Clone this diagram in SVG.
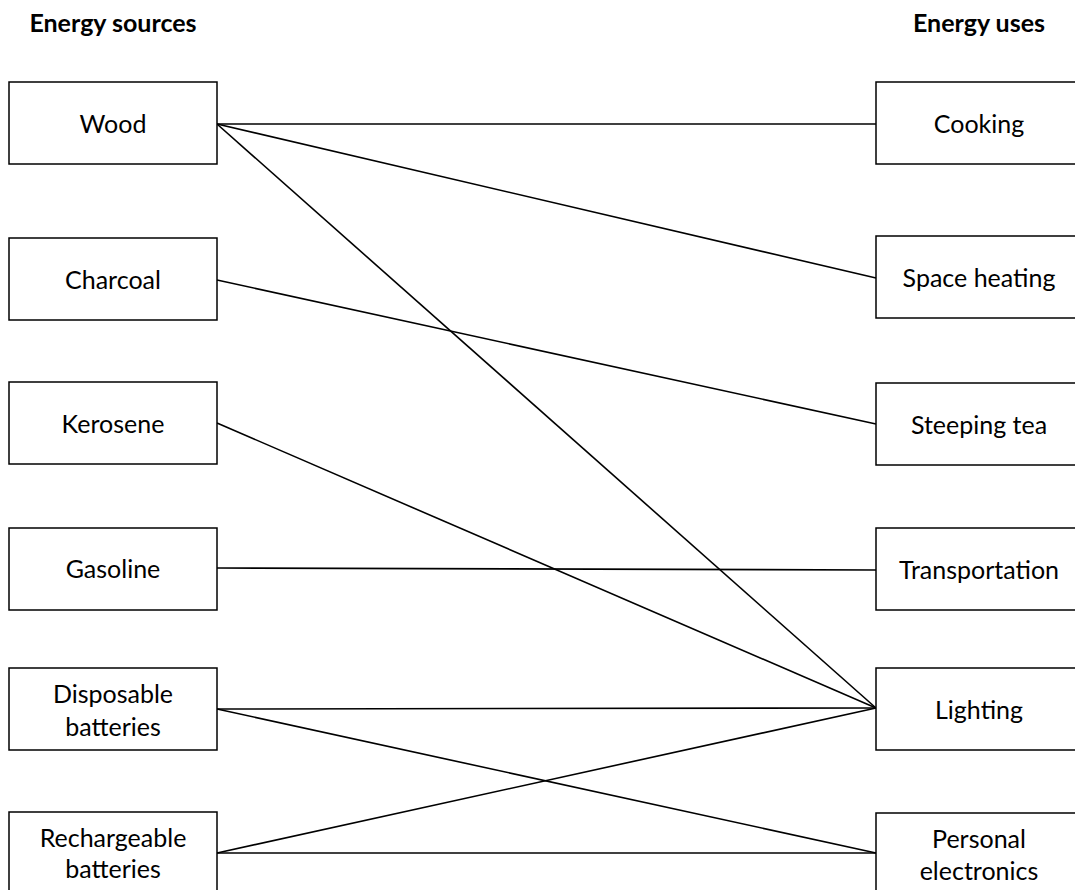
<svg xmlns="http://www.w3.org/2000/svg" width="1075" height="890" viewBox="0 0 1075 890">
<style>
.box{fill:#fff;stroke:#000;stroke-width:1.5}
.t{font-family:Lato,"Liberation Sans",sans-serif;font-size:25px;fill:#000;text-anchor:middle}
.h{font-family:Lato,"Liberation Sans",sans-serif;font-size:25px;font-weight:bold;fill:#000;text-anchor:middle}
.c{stroke:#000;stroke-width:1.6;fill:none}
</style>
<rect width="1075" height="890" fill="#fff"/>
<text class="h" x="113" y="32">Energy sources</text>
<text class="h" x="979" y="32">Energy uses</text>
<g id="connectors">
<line class="c" x1="217" y1="124" x2="876" y2="124"/>
<line class="c" x1="217" y1="124" x2="876" y2="278"/>
<line class="c" x1="217" y1="124" x2="876" y2="708"/>
<line class="c" x1="217" y1="280" x2="876" y2="424"/>
<line class="c" x1="217" y1="423" x2="876" y2="708"/>
<line class="c" x1="217" y1="568" x2="876" y2="570"/>
<line class="c" x1="217" y1="709" x2="876" y2="708"/>
<line class="c" x1="217" y1="709" x2="876" y2="853"/>
<line class="c" x1="217" y1="853" x2="876" y2="708"/>
<line class="c" x1="217" y1="853" x2="876" y2="853"/>
</g>
<g id="wood"><rect class="box" x="9" y="82" width="208" height="82"/><text class="t" x="113" y="133">Wood</text></g>
<g id="charcoal"><rect class="box" x="9" y="238" width="208" height="82"/><text class="t" x="113" y="289">Charcoal</text></g>
<g id="kerosene"><rect class="box" x="9" y="382" width="208" height="82"/><text class="t" x="113" y="433">Kerosene</text></g>
<g id="gasoline"><rect class="box" x="9" y="528" width="208" height="82"/><text class="t" x="113" y="578">Gasoline</text></g>
<g id="disposable"><rect class="box" x="9" y="668" width="208" height="82"/><text class="t" x="113" y="703">Disposable</text><text class="t" x="113" y="736">batteries</text></g>
<g id="rechargeable"><rect class="box" x="9" y="812" width="208" height="82"/><text class="t" x="113" y="847">Rechargeable</text><text class="t" x="113" y="878">batteries</text></g>
<g id="cooking"><rect class="box" x="876" y="82" width="208" height="82"/><text class="t" x="979" y="133">Cooking</text></g>
<g id="space-heating"><rect class="box" x="876" y="236" width="208" height="82"/><text class="t" x="979" y="287">Space heating</text></g>
<g id="steeping-tea"><rect class="box" x="876" y="383" width="208" height="82"/><text class="t" x="979" y="434">Steeping tea</text></g>
<g id="transportation"><rect class="box" x="876" y="528" width="208" height="82"/><text class="t" x="979" y="579">Transportation</text></g>
<g id="lighting"><rect class="box" x="876" y="668" width="208" height="82"/><text class="t" x="979" y="719">Lighting</text></g>
<g id="personal-electronics"><rect class="box" x="876" y="813" width="208" height="82"/><text class="t" x="979" y="848">Personal</text><text class="t" x="979" y="880">electronics</text></g>
</svg>
